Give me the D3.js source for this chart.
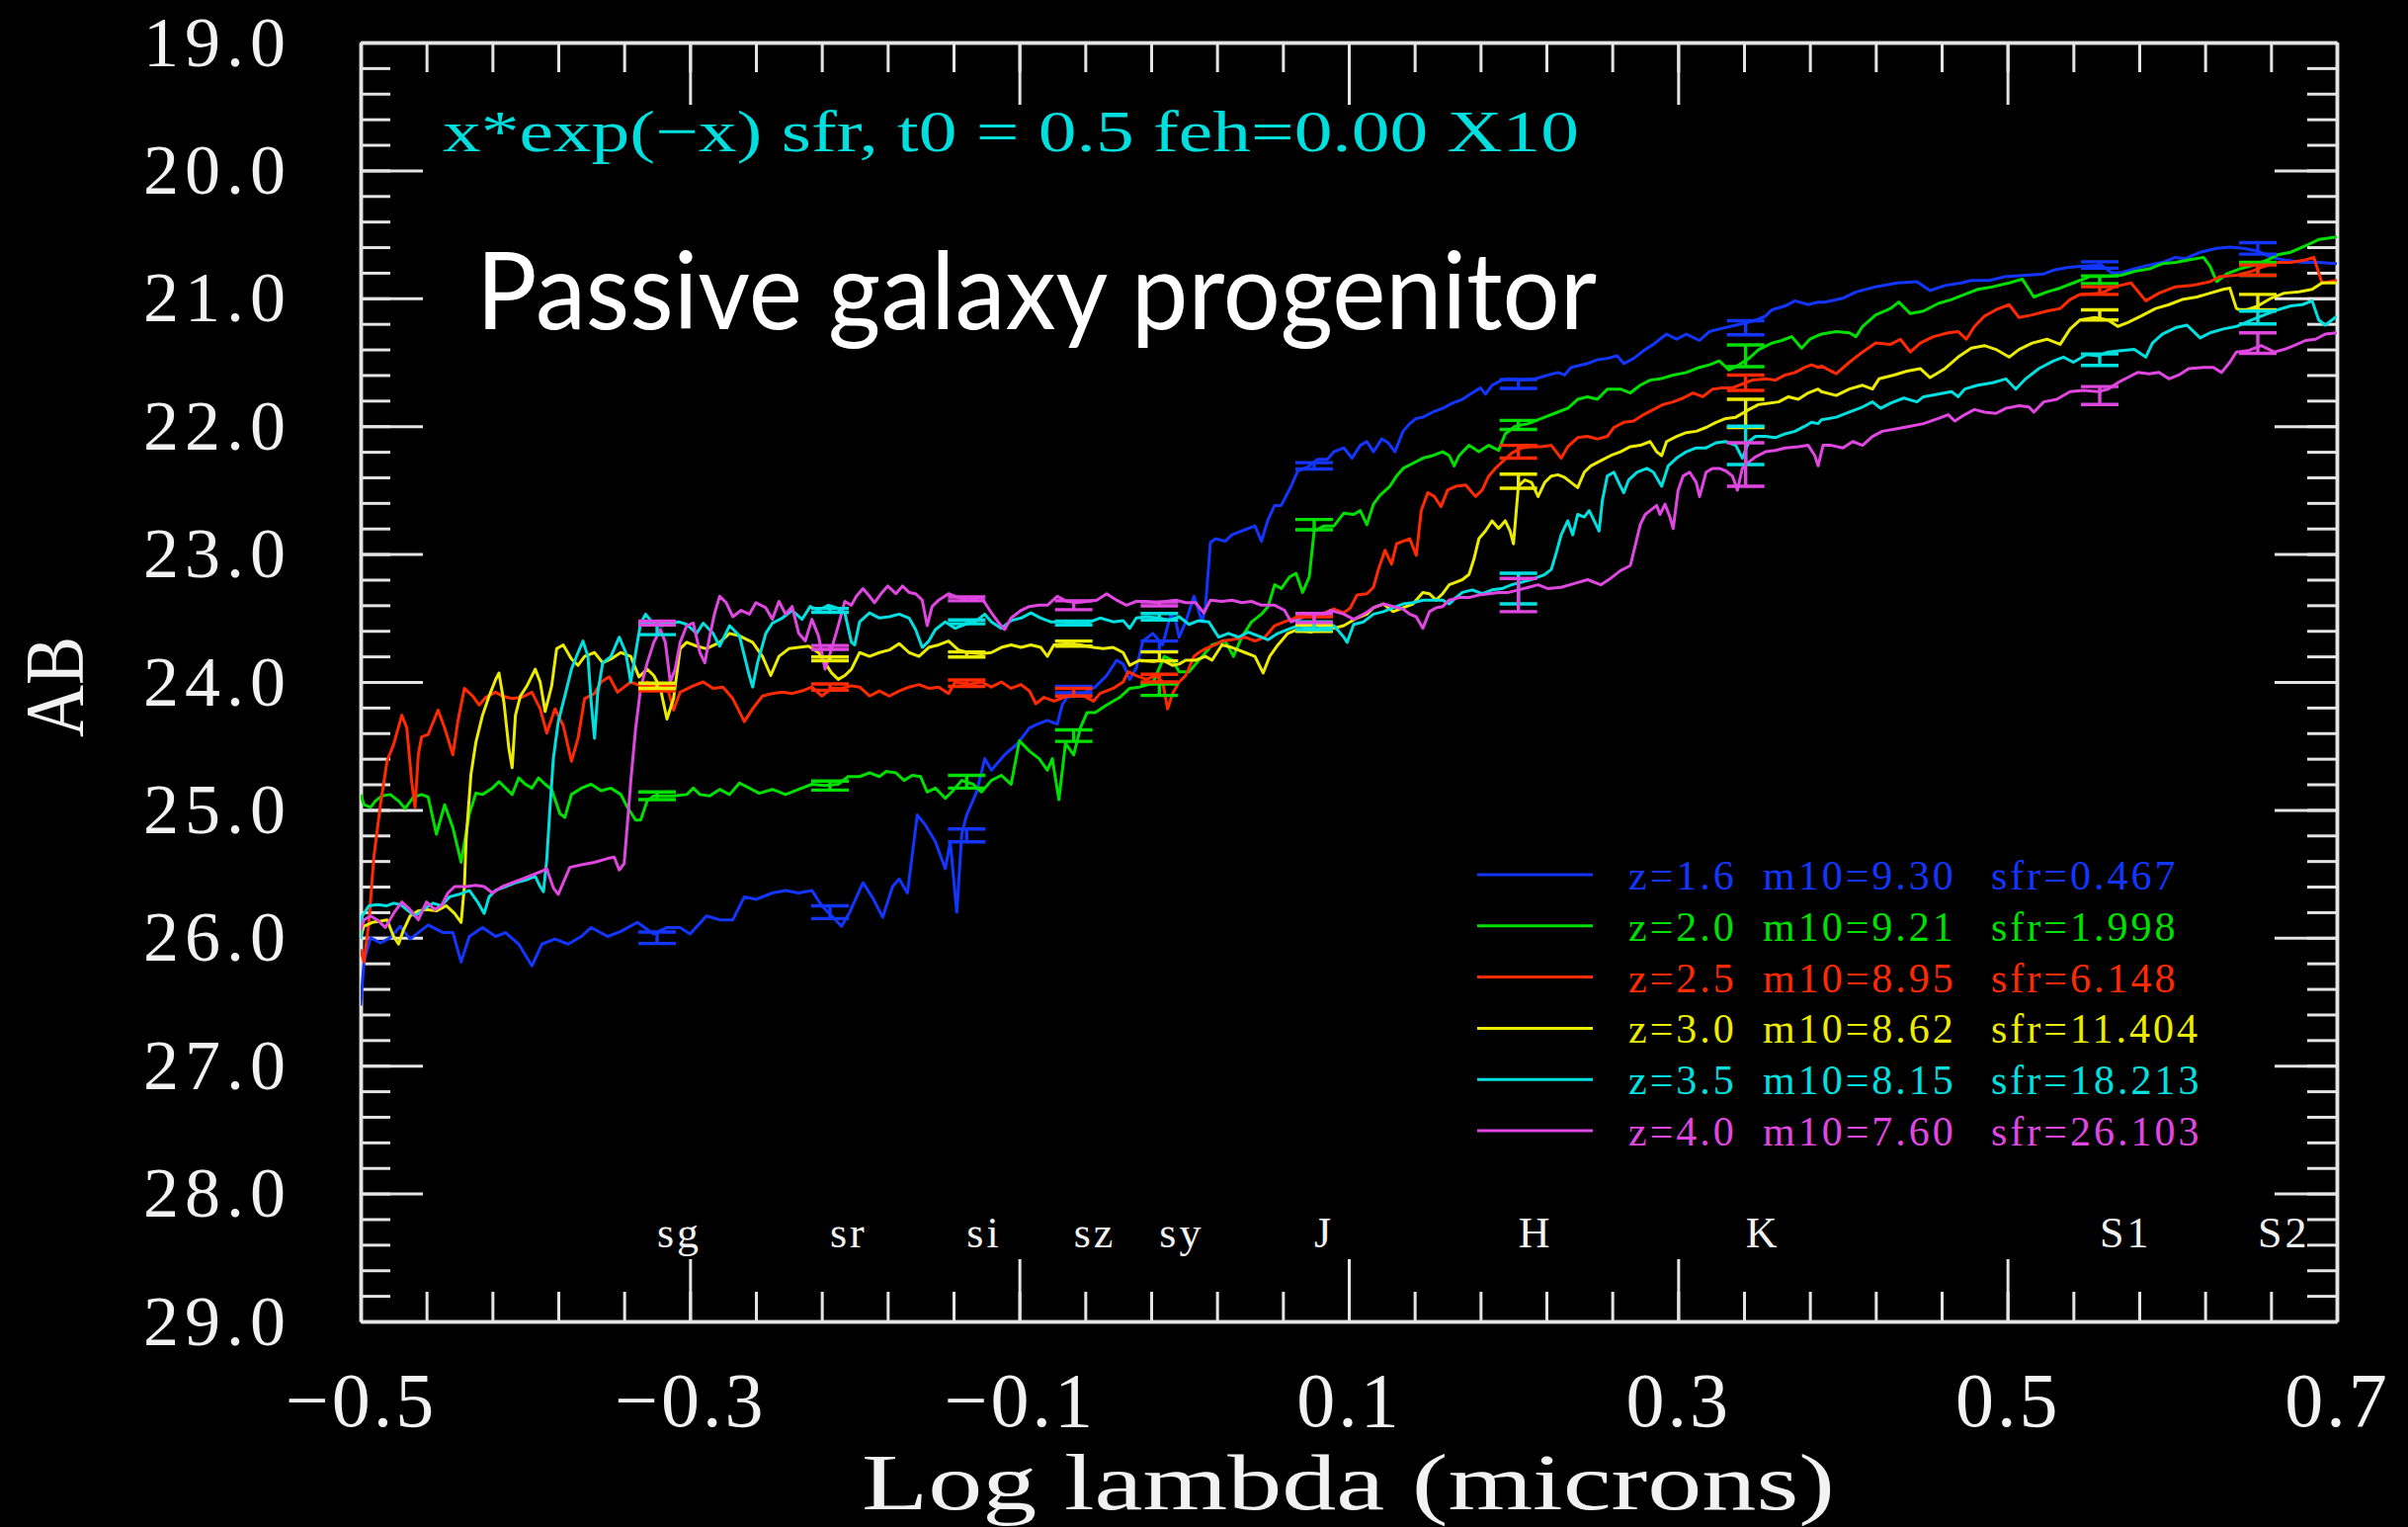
<!DOCTYPE html>
<html><head><meta charset="utf-8">
<script src="https://cdn.jsdelivr.net/npm/d3@7"></script>
<style>
html,body{margin:0;padding:0;background:#000;}
svg{display:block;}
</style></head><body>
<svg id="chart" width="2437" height="1545"></svg>
<script>
// ---------------- DATA ----------------
const titleText = "x*exp(\u2212x) sfr, t0 = 0.5 feh=0.00 X10";
const bigTitle = "Passive galaxy progenitor";
const xAxisTitle = "Log lambda (microns)";
const yAxisTitle = "AB";

const xTickValues = [-0.5, -0.3, -0.1, 0.1, 0.3, 0.5, 0.7];
const yTickValues = [19, 20, 21, 22, 23, 24, 25, 26, 27, 28, 29];

const zLabels   = ["z=1.6", "z=2.0", "z=2.5", "z=3.0", "z=3.5", "z=4.0"];
const m10Labels = ["m10=9.30", "m10=9.21", "m10=8.95", "m10=8.62", "m10=8.15", "m10=7.60"];
const sfrLabels = ["sfr=0.467", "sfr=1.998", "sfr=6.148", "sfr=11.404", "sfr=18.213", "sfr=26.103"];
const seriesColors = ["#1236ff", "#00e000", "#ff2a00", "#ecec00", "#00e0e0", "#e046e0"];

const filterNames  = ["sg", "sr", "si", "sz", "sy", "J", "H", "K", "S1", "S2"];
const filterLogLam = [-0.320, -0.215, -0.132, -0.067, -0.015, 0.079, 0.203, 0.341, 0.556, 0.652];

// spectra: [log lambda, AB]
const blueSpec = [
[-0.500,26.53],[-0.498,26.19],[-0.494,26.00],[-0.488,26.04],[-0.482,26.00],[-0.476,25.91],[-0.470,26.01],[-0.459,25.90],[-0.450,25.96],[-0.444,25.96],[-0.439,26.19],[-0.434,25.99],[-0.426,25.92],[-0.418,25.99],[-0.412,25.96],[-0.404,26.05],[-0.396,26.22],[-0.390,26.05],[-0.382,26.01],[-0.374,26.05],[-0.366,25.99],[-0.360,25.92],[-0.350,25.99],[-0.342,25.95],[-0.332,25.88],[-0.322,25.97],[-0.314,25.92],[-0.306,25.92],[-0.300,25.97],[-0.290,25.83],[-0.282,25.86],[-0.274,25.86],[-0.267,25.68],[-0.260,25.70],[-0.250,25.65],[-0.242,25.63],[-0.234,25.65],[-0.226,25.63],[-0.220,25.75],[-0.214,25.83],[-0.208,25.91],
[-0.203,25.80],[-0.195,25.57],[-0.189,25.69],[-0.183,25.84],[-0.177,25.60],[-0.173,25.54],[-0.168,25.65],[-0.162,25.04],[-0.157,25.12],[-0.151,25.25],[-0.145,25.46],[-0.142,25.25],[-0.138,25.80],[-0.135,25.19],[-0.132,25.04],[-0.126,24.86],[-0.121,24.60],[-0.117,24.69],[-0.109,24.57],[-0.101,24.48],[-0.094,24.36],[-0.089,24.33],[-0.083,24.30],[-0.077,24.33],[-0.074,24.18],[-0.071,24.12],[-0.063,24.10],[-0.054,24.04],[-0.047,23.95],[-0.041,23.83],[-0.037,23.86],[-0.033,23.98],[-0.029,23.89],[-0.025,23.68],[-0.019,23.62],[-0.013,23.71],[-0.008,23.47],[-0.005,23.53],[-0.003,23.65],[0.001,23.53],[0.006,23.33],[0.011,23.53],[0.013,23.41],[0.016,22.91],[0.019,22.88],[0.025,22.90],[0.029,22.85],[0.037,22.81],[0.043,22.78],[0.047,22.90],[0.051,22.73],[0.055,22.62],[0.059,22.62],[0.065,22.47],[0.069,22.35],[0.075,22.32],[0.081,22.26],[0.087,22.26],[0.091,22.20],[0.097,22.17],
[0.102,22.25],[0.107,22.15],[0.111,22.12],[0.115,22.20],[0.120,22.10],[0.124,22.13],[0.128,22.20],[0.133,22.04],[0.137,21.98],[0.141,21.94],[0.145,21.93],[0.151,21.89],[0.157,21.86],[0.163,21.82],[0.169,21.79],[0.175,21.74],[0.180,21.70],[0.183,21.75],[0.187,21.68],[0.193,21.64],[0.197,21.63],[0.205,21.64],[0.213,21.63],[0.221,21.60],[0.227,21.58],[0.231,21.60],[0.235,21.54],[0.245,21.51],[0.251,21.48],[0.257,21.47],[0.263,21.45],[0.267,21.51],[0.273,21.47],[0.279,21.41],[0.285,21.36],[0.293,21.28],[0.299,21.32],[0.305,21.28],[0.313,21.33],[0.319,21.26],[0.325,21.24],[0.335,21.21],[0.345,21.18],[0.353,21.14],[0.357,21.09],[0.365,21.06],[0.371,21.02],[0.379,21.05],[0.385,21.03],
[0.389,21.03],[0.400,21.00],[0.408,20.95],[0.420,20.91],[0.433,20.88],[0.445,20.87],[0.453,20.94],[0.462,20.90],[0.472,20.88],[0.478,20.86],[0.489,20.86],[0.499,20.83],[0.511,20.82],[0.522,20.81],[0.528,20.78],[0.536,20.76],[0.544,20.75],[0.557,20.74],[0.563,20.80],[0.569,20.80],[0.577,20.77],[0.586,20.74],[0.594,20.72],[0.602,20.68],[0.608,20.69],[0.617,20.64],[0.627,20.61],[0.635,20.60],[0.643,20.61],[0.652,20.63],[0.660,20.68],[0.668,20.70],[0.679,20.72],[0.689,20.72],[0.700,20.73]
];
const greenSpec = [
[-0.500,24.88],[-0.498,24.96],[-0.494,24.98],[-0.491,24.93],[-0.487,24.89],[-0.482,24.88],[-0.477,24.93],[-0.473,24.99],[-0.468,24.90],[-0.463,24.88],[-0.459,24.90],[-0.454,25.19],[-0.449,24.96],[-0.444,25.14],[-0.439,25.41],[-0.434,25.03],[-0.430,24.87],[-0.426,24.88],[-0.420,24.83],[-0.416,24.78],[-0.412,24.83],[-0.408,24.88],[-0.404,24.75],[-0.400,24.80],[-0.396,24.83],[-0.392,24.75],[-0.388,24.80],[-0.384,24.84],[-0.379,25.03],[-0.376,25.06],[-0.372,24.88],[-0.366,24.83],[-0.360,24.80],[-0.354,24.85],[-0.348,24.83],[-0.342,24.88],[-0.338,24.98],[-0.333,25.08],[-0.330,25.08],[-0.326,24.93],[-0.322,24.89],[-0.310,24.89],[-0.302,24.88],[-0.298,24.83],[-0.294,24.88],[-0.288,24.89],[-0.282,24.84],[-0.276,24.88],[-0.270,24.79],[-0.264,24.83],[-0.258,24.87],[-0.250,24.84],[-0.242,24.88],[-0.234,24.84],[-0.226,24.80],[-0.218,24.81],[-0.210,24.80],[-0.204,24.74],
[-0.197,24.74],[-0.191,24.71],[-0.185,24.74],[-0.181,24.70],[-0.175,24.71],[-0.170,24.77],[-0.165,24.73],[-0.160,24.74],[-0.156,24.86],[-0.151,24.83],[-0.145,24.91],[-0.141,24.86],[-0.135,24.77],[-0.128,24.80],[-0.123,24.86],[-0.117,24.77],[-0.111,24.73],[-0.105,24.80],[-0.100,24.46],[-0.094,24.54],[-0.088,24.60],[-0.083,24.69],[-0.080,24.60],[-0.076,24.92],[-0.072,24.48],[-0.067,24.57],[-0.063,24.36],[-0.059,24.24],[-0.054,24.24],[-0.047,24.18],[-0.039,24.12],[-0.033,24.05],[-0.027,24.04],[-0.019,24.01],[-0.012,23.80],[-0.007,23.83],[-0.003,23.92],[0.003,23.92],[0.011,23.80],[0.017,23.71],[0.025,23.68],[0.030,23.80],[0.035,23.65],[0.041,23.53],[0.047,23.47],[0.051,23.41],[0.055,23.24],[0.059,23.27],[0.064,23.18],[0.068,23.15],[0.072,23.30],[0.076,23.18],[0.079,22.82],[0.085,22.78],[0.091,22.78],[0.097,22.68],
[0.103,22.69],[0.107,22.66],[0.111,22.77],[0.115,22.61],[0.119,22.54],[0.125,22.47],[0.129,22.39],[0.133,22.33],[0.139,22.29],[0.145,22.25],[0.151,22.23],[0.157,22.20],[0.161,22.23],[0.164,22.31],[0.167,22.23],[0.173,22.15],[0.179,22.20],[0.185,22.15],[0.191,22.19],[0.195,22.06],[0.201,22.00],[0.209,21.98],[0.217,21.94],[0.225,21.90],[0.233,21.86],[0.239,21.79],[0.245,21.77],[0.251,21.79],[0.257,21.71],[0.265,21.71],[0.271,21.74],[0.277,21.68],[0.283,21.64],[0.289,21.63],[0.297,21.60],[0.305,21.58],[0.313,21.54],[0.319,21.52],[0.325,21.49],[0.331,21.56],[0.337,21.52],[0.343,21.47],[0.349,21.40],[0.357,21.35],[0.363,21.33],[0.369,21.30],[0.375,21.39],[0.380,21.32],[0.385,21.29],
[0.387,21.28],[0.396,21.26],[0.404,21.27],[0.408,21.30],[0.412,21.22],[0.420,21.13],[0.429,21.08],[0.434,21.03],[0.441,21.12],[0.449,21.10],[0.458,21.04],[0.466,21.01],[0.474,20.97],[0.482,20.93],[0.491,20.91],[0.501,20.88],[0.509,20.85],[0.516,20.99],[0.524,20.95],[0.532,20.92],[0.540,20.88],[0.550,20.83],[0.561,20.83],[0.569,20.82],[0.577,20.79],[0.586,20.77],[0.594,20.73],[0.602,20.72],[0.610,20.70],[0.619,20.68],[0.623,20.75],[0.627,20.87],[0.633,20.81],[0.641,20.77],[0.650,20.74],[0.658,20.70],[0.664,20.66],[0.672,20.64],[0.681,20.59],[0.689,20.54],[0.700,20.52]
];
const redSpec = [
[-0.500,26.09],[-0.498,26.19],[-0.495,25.88],[-0.492,25.37],[-0.488,24.96],[-0.484,24.62],[-0.480,24.49],[-0.475,24.26],[-0.472,24.36],[-0.469,24.78],[-0.467,24.98],[-0.465,24.57],[-0.463,24.43],[-0.459,24.41],[-0.453,24.22],[-0.449,24.36],[-0.444,24.57],[-0.441,24.31],[-0.437,24.05],[-0.432,24.11],[-0.428,24.18],[-0.424,24.12],[-0.418,24.08],[-0.414,24.11],[-0.408,24.13],[-0.402,24.12],[-0.396,24.08],[-0.391,24.21],[-0.387,24.40],[-0.382,24.21],[-0.377,24.34],[-0.372,24.62],[-0.368,24.44],[-0.364,24.13],[-0.358,24.09],[-0.354,24.00],[-0.349,23.96],[-0.344,24.08],[-0.340,24.04],[-0.336,24.00],[-0.330,24.03],[-0.326,24.00],[-0.321,24.04],[-0.314,24.03],[-0.310,24.22],[-0.306,24.08],[-0.298,24.03],[-0.292,24.00],[-0.286,24.05],[-0.280,24.04],[-0.274,24.13],[-0.267,24.31],[-0.262,24.21],[-0.256,24.11],[-0.250,24.09],[-0.244,24.08],[-0.238,24.09],[-0.232,24.07],[-0.226,24.04],[-0.220,24.11],[-0.214,24.05],[-0.208,24.05],[-0.202,24.03],
[-0.197,24.04],[-0.191,24.11],[-0.185,24.07],[-0.179,24.11],[-0.173,24.07],[-0.167,24.04],[-0.161,24.02],[-0.155,24.05],[-0.149,24.04],[-0.143,24.09],[-0.139,24.00],[-0.131,24.02],[-0.123,24.00],[-0.117,24.04],[-0.111,24.00],[-0.105,24.05],[-0.099,24.02],[-0.094,24.07],[-0.090,24.17],[-0.085,24.12],[-0.079,24.15],[-0.073,24.12],[-0.067,24.09],[-0.061,24.11],[-0.055,24.15],[-0.051,24.09],[-0.043,24.05],[-0.037,24.00],[-0.034,23.92],[-0.029,23.95],[-0.023,23.98],[-0.017,23.95],[-0.013,24.00],[-0.010,24.21],[-0.007,24.09],[-0.003,24.00],[0.001,23.95],[0.006,23.80],[0.009,23.77],[0.013,23.74],[0.019,23.71],[0.023,23.68],[0.029,23.67],[0.037,23.65],[0.043,23.68],[0.049,23.65],[0.055,23.56],[0.061,23.53],[0.067,23.50],[0.073,23.46],[0.079,23.47],[0.085,23.46],[0.091,23.43],[0.097,23.46],
[0.101,23.42],[0.105,23.32],[0.111,23.31],[0.115,23.26],[0.118,23.12],[0.122,22.97],[0.126,23.08],[0.129,22.92],[0.133,22.90],[0.137,22.88],[0.141,23.01],[0.144,22.66],[0.148,22.52],[0.152,22.55],[0.156,22.63],[0.160,22.50],[0.165,22.47],[0.171,22.46],[0.177,22.55],[0.181,22.50],[0.185,22.39],[0.189,22.33],[0.194,22.27],[0.199,22.21],[0.205,22.17],[0.211,22.16],[0.217,22.16],[0.223,22.15],[0.229,22.25],[0.233,22.16],[0.239,22.09],[0.245,22.08],[0.251,22.10],[0.257,22.08],[0.261,22.01],[0.267,21.97],[0.273,21.96],[0.279,21.91],[0.285,21.87],[0.291,21.83],[0.297,21.81],[0.303,21.78],[0.309,21.74],[0.315,21.77],[0.321,21.71],[0.327,21.70],[0.333,21.70],[0.339,21.67],[0.345,21.64],[0.353,21.63],[0.359,21.64],[0.365,21.60],[0.371,21.58],[0.377,21.54],[0.381,21.52],[0.385,21.54],
[0.387,21.53],[0.396,21.59],[0.404,21.50],[0.412,21.42],[0.420,21.35],[0.429,21.36],[0.435,21.32],[0.441,21.42],[0.447,21.35],[0.455,21.30],[0.464,21.27],[0.470,21.26],[0.475,21.32],[0.480,21.22],[0.486,21.14],[0.493,21.09],[0.501,21.05],[0.507,21.15],[0.515,21.13],[0.524,21.10],[0.532,21.08],[0.538,21.01],[0.544,20.97],[0.557,20.96],[0.565,20.91],[0.575,20.88],[0.584,21.02],[0.592,20.96],[0.602,20.91],[0.612,20.90],[0.623,20.87],[0.629,20.83],[0.639,20.82],[0.648,20.79],[0.656,20.75],[0.664,20.72],[0.672,20.72],[0.681,20.70],[0.686,20.68],[0.691,20.88],[0.700,20.86]
];
const yellowSpec = [
[-0.500,25.99],[-0.498,25.91],[-0.493,25.88],[-0.488,25.87],[-0.484,25.86],[-0.480,25.99],[-0.477,26.05],[-0.474,25.94],[-0.470,25.83],[-0.465,25.79],[-0.460,25.78],[-0.454,25.79],[-0.448,25.75],[-0.443,25.81],[-0.439,25.88],[-0.437,25.60],[-0.436,25.24],[-0.433,24.72],[-0.430,24.47],[-0.426,24.26],[-0.422,24.11],[-0.418,23.98],[-0.416,23.93],[-0.413,24.16],[-0.410,24.52],[-0.408,24.67],[-0.406,24.26],[-0.403,24.11],[-0.399,24.03],[-0.394,23.90],[-0.391,24.00],[-0.388,24.23],[-0.384,24.03],[-0.381,23.74],[-0.377,23.71],[-0.372,23.82],[-0.368,23.87],[-0.364,23.80],[-0.358,23.77],[-0.353,23.85],[-0.348,23.82],[-0.342,23.77],[-0.336,23.80],[-0.331,23.96],[-0.326,23.90],[-0.322,23.95],[-0.318,24.05],[-0.314,24.29],[-0.310,24.13],[-0.306,23.74],[-0.302,23.69],[-0.296,23.72],[-0.290,23.74],[-0.282,23.69],[-0.276,23.62],[-0.270,23.64],[-0.262,23.69],[-0.256,23.80],[-0.251,23.95],[-0.246,23.80],[-0.240,23.74],[-0.234,23.73],[-0.228,23.72],[-0.222,23.77],[-0.218,23.85],[-0.214,23.93],[-0.210,23.98],[-0.206,23.95],[-0.202,23.90],
[-0.197,23.77],[-0.191,23.80],[-0.185,23.77],[-0.179,23.75],[-0.173,23.70],[-0.167,23.77],[-0.161,23.80],[-0.155,23.73],[-0.149,23.71],[-0.143,23.68],[-0.137,23.75],[-0.131,23.77],[-0.123,23.78],[-0.117,23.77],[-0.111,23.73],[-0.105,23.71],[-0.099,23.73],[-0.093,23.71],[-0.087,23.73],[-0.083,23.80],[-0.079,23.71],[-0.071,23.70],[-0.063,23.71],[-0.055,23.73],[-0.049,23.74],[-0.043,23.73],[-0.037,23.77],[-0.033,23.87],[-0.027,23.83],[-0.019,23.84],[-0.013,23.83],[-0.007,23.87],[-0.003,23.86],[0.001,23.83],[0.007,23.83],[0.013,23.80],[0.017,23.83],[0.023,23.71],[0.029,23.73],[0.037,23.77],[0.043,23.80],[0.048,23.93],[0.052,23.80],[0.057,23.71],[0.063,23.62],[0.069,23.59],[0.077,23.61],[0.085,23.56],[0.091,23.58],[0.097,23.56],
[0.105,23.50],[0.111,23.47],[0.115,23.42],[0.121,23.39],[0.127,23.45],[0.133,23.42],[0.139,23.39],[0.145,23.30],[0.149,23.31],[0.153,23.36],[0.157,23.31],[0.161,23.24],[0.165,23.22],[0.169,23.20],[0.173,23.16],[0.176,23.04],[0.179,22.88],[0.183,22.82],[0.187,22.74],[0.191,22.80],[0.195,22.74],[0.198,22.82],[0.200,22.92],[0.203,22.47],[0.207,22.42],[0.211,22.44],[0.215,22.55],[0.219,22.44],[0.223,22.39],[0.227,22.38],[0.231,22.40],[0.235,22.44],[0.239,22.48],[0.243,22.36],[0.247,22.31],[0.253,22.27],[0.259,22.23],[0.265,22.20],[0.271,22.16],[0.277,22.15],[0.283,22.12],[0.287,22.20],[0.290,22.23],[0.293,22.12],[0.299,22.08],[0.305,22.05],[0.311,22.04],[0.317,22.01],[0.323,21.97],[0.329,21.94],[0.335,21.93],[0.343,21.87],[0.349,21.83],[0.355,21.82],[0.361,21.81],[0.367,21.77],[0.373,21.79],[0.379,21.74],[0.385,21.71],
[0.387,21.73],[0.396,21.76],[0.404,21.71],[0.412,21.68],[0.418,21.71],[0.422,21.63],[0.431,21.60],[0.439,21.57],[0.447,21.55],[0.453,21.62],[0.462,21.55],[0.470,21.46],[0.478,21.39],[0.486,21.37],[0.493,21.40],[0.501,21.46],[0.507,21.40],[0.515,21.35],[0.524,21.32],[0.532,21.36],[0.538,21.24],[0.544,21.17],[0.553,21.15],[0.561,21.17],[0.567,21.22],[0.573,21.19],[0.581,21.14],[0.590,21.08],[0.598,21.05],[0.606,21.01],[0.615,20.99],[0.623,20.96],[0.631,20.93],[0.635,20.92],[0.639,21.08],[0.643,21.10],[0.652,21.06],[0.660,21.00],[0.668,20.96],[0.677,20.95],[0.685,20.93],[0.691,20.88],[0.700,20.88]
];
const cyanSpec = [
[-0.500,26.01],[-0.499,25.83],[-0.495,25.75],[-0.490,25.74],[-0.484,25.75],[-0.480,25.73],[-0.476,25.74],[-0.472,25.78],[-0.467,25.83],[-0.462,25.78],[-0.456,25.73],[-0.451,25.75],[-0.446,25.68],[-0.440,25.66],[-0.434,25.63],[-0.429,25.72],[-0.425,25.81],[-0.422,25.68],[-0.418,25.63],[-0.412,25.60],[-0.406,25.57],[-0.400,25.55],[-0.394,25.52],[-0.391,25.60],[-0.389,25.64],[-0.387,25.39],[-0.385,24.98],[-0.383,24.60],[-0.380,24.31],[-0.376,24.11],[-0.372,23.90],[-0.368,23.77],[-0.365,23.68],[-0.362,23.80],[-0.360,24.16],[-0.358,24.44],[-0.356,24.08],[-0.353,23.85],[-0.348,23.80],[-0.343,23.65],[-0.339,23.77],[-0.336,24.00],[-0.333,23.77],[-0.330,23.54],[-0.327,23.47],[-0.322,23.55],[-0.317,23.56],[-0.312,23.54],[-0.307,23.53],[-0.302,23.55],[-0.296,23.62],[-0.292,23.54],[-0.286,23.62],[-0.282,23.72],[-0.276,23.56],[-0.270,23.64],[-0.264,23.95],[-0.262,24.04],[-0.259,23.85],[-0.254,23.62],[-0.250,23.54],[-0.244,23.50],[-0.238,23.44],[-0.232,23.51],[-0.227,23.41],[-0.222,23.44],[-0.216,23.40],[-0.211,23.42],[-0.206,23.46],[-0.202,23.69],
[-0.200,23.71],[-0.197,23.53],[-0.191,23.46],[-0.185,23.50],[-0.179,23.49],[-0.173,23.47],[-0.167,23.50],[-0.163,23.59],[-0.159,23.73],[-0.155,23.68],[-0.151,23.59],[-0.145,23.53],[-0.139,23.58],[-0.133,23.55],[-0.127,23.53],[-0.121,23.47],[-0.117,23.53],[-0.111,23.58],[-0.105,23.52],[-0.099,23.50],[-0.093,23.46],[-0.087,23.50],[-0.081,23.53],[-0.073,23.53],[-0.065,23.55],[-0.057,23.53],[-0.051,23.50],[-0.043,23.53],[-0.037,23.52],[-0.033,23.58],[-0.029,23.50],[-0.023,23.49],[-0.015,23.50],[-0.009,23.52],[-0.003,23.49],[0.003,23.55],[0.009,23.52],[0.015,23.53],[0.021,23.65],[0.027,23.62],[0.033,23.65],[0.039,23.61],[0.045,23.64],[0.051,23.67],[0.057,23.62],[0.063,23.59],[0.069,23.56],[0.077,23.58],[0.085,23.58],[0.091,23.56],[0.097,23.65],
[0.099,23.69],[0.103,23.55],[0.109,23.53],[0.115,23.47],[0.121,23.45],[0.127,23.42],[0.133,23.39],[0.139,23.38],[0.145,23.36],[0.151,23.36],[0.157,23.36],[0.161,23.39],[0.165,23.34],[0.169,23.30],[0.175,23.28],[0.181,23.31],[0.187,23.28],[0.193,23.27],[0.199,23.24],[0.205,23.22],[0.213,23.19],[0.219,23.16],[0.223,23.12],[0.226,22.99],[0.229,22.85],[0.233,22.74],[0.236,22.85],[0.239,22.69],[0.243,22.71],[0.246,22.66],[0.249,22.74],[0.252,22.82],[0.254,22.58],[0.257,22.39],[0.261,22.36],[0.265,22.47],[0.267,22.52],[0.270,22.42],[0.275,22.36],[0.281,22.33],[0.285,22.36],[0.290,22.47],[0.294,22.31],[0.299,22.25],[0.305,22.20],[0.311,22.17],[0.317,22.17],[0.323,22.13],[0.329,22.12],[0.335,22.15],[0.339,22.25],[0.343,22.12],[0.347,22.08],[0.353,22.08],[0.359,22.09],[0.365,22.06],[0.371,22.04],[0.377,22.00],[0.381,21.97],[0.385,21.98],
[0.387,21.95],[0.396,21.93],[0.404,21.89],[0.412,21.85],[0.418,21.81],[0.423,21.86],[0.429,21.82],[0.437,21.78],[0.445,21.81],[0.449,21.77],[0.458,21.75],[0.466,21.73],[0.470,21.77],[0.474,21.71],[0.482,21.68],[0.491,21.66],[0.499,21.63],[0.505,21.71],[0.511,21.63],[0.519,21.55],[0.528,21.49],[0.534,21.46],[0.540,21.50],[0.548,21.44],[0.555,21.45],[0.561,21.42],[0.569,21.41],[0.577,21.40],[0.584,21.46],[0.588,21.35],[0.594,21.28],[0.602,21.23],[0.609,21.21],[0.617,21.31],[0.623,21.27],[0.631,21.24],[0.639,21.22],[0.648,21.17],[0.656,21.13],[0.664,21.09],[0.672,21.06],[0.679,21.05],[0.685,21.02],[0.689,21.17],[0.693,21.21],[0.700,21.14]
];
const magentaSpec = [
[-0.500,25.94],[-0.498,25.86],[-0.494,25.83],[-0.490,25.86],[-0.485,25.92],[-0.480,25.81],[-0.475,25.72],[-0.470,25.78],[-0.465,25.86],[-0.460,25.72],[-0.455,25.78],[-0.451,25.75],[-0.447,25.65],[-0.443,25.60],[-0.436,25.60],[-0.430,25.59],[-0.425,25.60],[-0.420,25.65],[-0.414,25.60],[-0.408,25.57],[-0.402,25.54],[-0.396,25.51],[-0.390,25.48],[-0.387,25.46],[-0.383,25.61],[-0.380,25.66],[-0.377,25.57],[-0.373,25.45],[-0.366,25.43],[-0.358,25.41],[-0.350,25.38],[-0.346,25.37],[-0.343,25.47],[-0.340,25.42],[-0.338,25.11],[-0.336,24.78],[-0.333,24.36],[-0.330,24.05],[-0.326,23.85],[-0.322,23.69],[-0.318,23.59],[-0.315,23.69],[-0.312,24.00],[-0.309,23.90],[-0.306,23.69],[-0.302,23.56],[-0.298,23.54],[-0.294,23.77],[-0.291,23.85],[-0.288,23.64],[-0.285,23.46],[-0.282,23.33],[-0.278,23.38],[-0.274,23.49],[-0.269,23.44],[-0.264,23.47],[-0.260,23.38],[-0.254,23.42],[-0.250,23.51],[-0.246,23.37],[-0.242,23.47],[-0.238,23.41],[-0.234,23.62],[-0.230,23.68],[-0.226,23.51],[-0.222,23.64],[-0.218,23.90],[-0.214,23.74],[-0.210,23.56],[-0.206,23.37],[-0.202,23.40],
[-0.199,23.33],[-0.195,23.27],[-0.191,23.33],[-0.188,23.38],[-0.184,23.31],[-0.180,23.25],[-0.175,23.31],[-0.171,23.25],[-0.167,23.30],[-0.163,23.31],[-0.159,23.36],[-0.156,23.56],[-0.153,23.41],[-0.149,23.36],[-0.143,23.31],[-0.137,23.34],[-0.131,23.36],[-0.123,23.34],[-0.118,23.44],[-0.113,23.53],[-0.109,23.59],[-0.105,23.50],[-0.099,23.44],[-0.094,23.41],[-0.088,23.40],[-0.083,23.40],[-0.077,23.33],[-0.071,23.37],[-0.065,23.38],[-0.059,23.37],[-0.053,23.36],[-0.047,23.31],[-0.041,23.36],[-0.035,23.40],[-0.029,23.37],[-0.023,23.37],[-0.017,23.38],[-0.011,23.37],[-0.005,23.36],[0.001,23.38],[0.007,23.38],[0.012,23.46],[0.016,23.36],[0.023,23.37],[0.029,23.36],[0.035,23.38],[0.041,23.37],[0.047,23.40],[0.055,23.40],[0.061,23.44],[0.065,23.53],[0.071,23.50],[0.077,23.47],[0.083,23.49],[0.089,23.44],[0.097,23.47],
[0.103,23.51],[0.109,23.47],[0.115,23.42],[0.121,23.39],[0.127,23.41],[0.133,23.43],[0.137,23.47],[0.141,23.49],[0.145,23.58],[0.149,23.45],[0.153,23.42],[0.157,23.41],[0.161,23.36],[0.167,23.34],[0.173,23.34],[0.179,23.32],[0.185,23.31],[0.191,23.30],[0.197,23.30],[0.203,23.28],[0.209,23.26],[0.215,23.24],[0.221,23.27],[0.229,23.26],[0.237,23.23],[0.245,23.20],[0.253,23.24],[0.259,23.19],[0.265,23.13],[0.271,23.09],[0.274,22.93],[0.277,22.77],[0.280,22.69],[0.283,22.66],[0.287,22.62],[0.289,22.69],[0.292,22.61],[0.295,22.71],[0.297,22.80],[0.300,22.50],[0.303,22.39],[0.307,22.36],[0.311,22.44],[0.313,22.55],[0.317,22.36],[0.321,22.33],[0.325,22.33],[0.329,22.35],[0.333,22.39],[0.336,22.50],[0.339,22.33],[0.343,22.28],[0.347,22.24],[0.353,22.20],[0.359,22.19],[0.365,22.17],[0.373,22.16],[0.379,22.15],[0.383,22.23],[0.385,22.31],
[0.388,22.15],[0.393,22.15],[0.400,22.17],[0.406,22.12],[0.412,22.15],[0.418,22.08],[0.424,22.04],[0.433,22.02],[0.441,22.00],[0.449,21.98],[0.458,21.94],[0.464,21.91],[0.468,21.96],[0.474,21.91],[0.480,21.87],[0.486,21.89],[0.493,21.90],[0.499,21.86],[0.507,21.84],[0.513,21.85],[0.516,21.89],[0.522,21.81],[0.530,21.79],[0.538,21.73],[0.546,21.72],[0.555,21.73],[0.561,21.71],[0.567,21.66],[0.573,21.62],[0.579,21.58],[0.586,21.59],[0.592,21.58],[0.598,21.63],[0.604,21.60],[0.610,21.55],[0.619,21.54],[0.625,21.54],[0.630,21.58],[0.635,21.50],[0.639,21.42],[0.646,21.41],[0.654,21.37],[0.662,21.42],[0.668,21.40],[0.674,21.37],[0.681,21.33],[0.687,21.32],[0.693,21.28],[0.700,21.27]
];

// filter photometry: [AB, error] per filter
const blueErr    = [[26.00,0.045],[25.80,0.05],[25.20,0.05],[24.06,0.025],[23.72,0.04],[22.31,0.025],[21.67,0.035],[21.23,0.055],[20.74,0.025],[20.61,0.045]];
const greenErr   = [[24.89,0.03],[24.81,0.035],[24.78,0.05],[24.42,0.045],[24.06,0.045],[22.77,0.04],[21.99,0.035],[21.45,0.085],[20.855,0.03],[20.77,0.05]];
const redErr     = [[24.05,0.02],[24.04,0.025],[24.01,0.025],[24.08,0.03],[23.97,0.03],[23.52,0.03],[22.20,0.05],[21.66,0.06],[20.94,0.03],[20.78,0.04]];
const yellowErr  = [[24.03,0.02],[23.82,0.015],[23.785,0.02],[23.70,0.02],[23.80,0.035],[23.58,0.025],[22.43,0.055],[21.90,0.11],[21.13,0.04],[21.03,0.06]];
const cyanErr    = [[23.585,0.045],[23.44,0.015],[23.53,0.015],[23.54,0.015],[23.49,0.025],[23.56,0.03],[23.27,0.12],[22.15,0.15],[21.48,0.045],[21.15,0.05]];
const magentaErr = [[23.54,0.015],[23.73,0.015],[23.35,0.015],[23.40,0.035],[23.39,0.015],[23.50,0.035],[23.32,0.13],[22.30,0.17],[21.76,0.07],[21.35,0.08]];

const spectra = [blueSpec, greenSpec, redSpec, yellowSpec, cyanSpec, magentaSpec];
const photometry = [blueErr, greenErr, redErr, yellowErr, cyanErr, magentaErr];

// ---------------- CHART ----------------
const W = 2437, H = 1545;
const P = {left: 365, right: 2365, top: 43, bottom: 1337};
const x = d3.scaleLinear().domain([-0.5, 0.7]).range([P.left, P.right]);
const y = d3.scaleLinear().domain([19, 29]).range([P.top, P.bottom]);

const svg = d3.select("#chart");
svg.append("rect").attr("width", W).attr("height", H).attr("fill", "#000");

svg.append("defs").append("clipPath").attr("id", "plotclip")
  .append("rect").attr("x", P.left).attr("y", P.top)
  .attr("width", P.right - P.left).attr("height", P.bottom - P.top);

const axisColor = "#e4e4e4";
const serif = "'Liberation Serif', 'DejaVu Serif', serif";
const fmt = d3.format(".1f");
const minorX = d3.range(0, 31).map(i => -0.5 + i * 0.04);
const minorY = d3.range(0, 51).map(i => 19 + i * 0.2);

function styleAxis(g) {
  g.selectAll("path, line").attr("stroke", axisColor).attr("stroke-width", 3);
  g.select(".domain").attr("stroke-width", 3.5);
}
function styleLabels(size, spacing) {
  return g => {
    g.attr("font-family", serif).attr("font-size", size);
    g.selectAll("text").attr("fill", "#f2f2f2").attr("letter-spacing", spacing);
  };
}

// bottom
svg.append("g").attr("transform", `translate(0,${P.bottom})`)
  .call(d3.axisBottom(x).tickValues(minorX).tickSize(-30).tickSizeOuter(0).tickFormat(""))
  .call(styleAxis);
svg.append("g").attr("transform", `translate(0,${P.bottom})`)
  .call(d3.axisBottom(x).tickValues(xTickValues).tickSize(-63).tickSizeOuter(0).tickPadding(51).tickFormat(fmt))
  .call(styleAxis).call(styleLabels(78, 3));
// top
svg.append("g").attr("transform", `translate(0,${P.top})`)
  .call(d3.axisTop(x).tickValues(minorX).tickSize(-30).tickSizeOuter(0).tickFormat(""))
  .call(styleAxis);
svg.append("g").attr("transform", `translate(0,${P.top})`)
  .call(d3.axisTop(x).tickValues(xTickValues).tickSize(-63).tickSizeOuter(0).tickFormat(""))
  .call(styleAxis);
// left
svg.append("g").attr("transform", `translate(${P.left},0)`)
  .call(d3.axisLeft(y).tickValues(minorY).tickSize(-30).tickSizeOuter(0).tickFormat(""))
  .call(styleAxis);
svg.append("g").attr("transform", `translate(${P.left},0)`)
  .call(d3.axisLeft(y).tickValues(yTickValues).tickSize(-63).tickSizeOuter(0).tickPadding(70).tickFormat(fmt))
  .call(styleAxis).call(styleLabels(72, 6));
// right
svg.append("g").attr("transform", `translate(${P.right},0)`)
  .call(d3.axisRight(y).tickValues(minorY).tickSize(-30).tickSizeOuter(0).tickFormat(""))
  .call(styleAxis);
svg.append("g").attr("transform", `translate(${P.right},0)`)
  .call(d3.axisRight(y).tickValues(yTickValues).tickSize(-63).tickSizeOuter(0).tickFormat(""))
  .call(styleAxis);

// axis titles
svg.append("text").attr("x", 872).attr("y", 1527)
  .attr("font-family", serif).attr("font-size", 80).attr("fill", "#f2f2f2")
  .attr("textLength", 985).attr("lengthAdjust", "spacingAndGlyphs")
  .text(xAxisTitle);
svg.append("text").attr("transform", "translate(84,695) rotate(-90)")
  .attr("text-anchor", "middle")
  .attr("font-family", serif).attr("font-size", 84).attr("fill", "#f2f2f2")
  .attr("textLength", 102).attr("lengthAdjust", "spacingAndGlyphs")
  .text(yAxisTitle);

// titles
svg.append("text").attr("x", 448).attr("y", 153)
  .attr("font-family", serif).attr("font-size", 60).attr("fill", "#00dede")
  .attr("textLength", 1150).attr("lengthAdjust", "spacingAndGlyphs")
  .text(titleText);
svg.append("text").attr("x", 482).attr("y", 333)
  .attr("font-family", "Lato, 'Open Sans', sans-serif").attr("font-size", 108).attr("fill", "#ffffff")
  .attr("textLength", 1134).attr("lengthAdjust", "spacingAndGlyphs")
  .text(bigTitle);

// filter labels
svg.append("g").selectAll("text").data(filterNames).join("text")
  .attr("x", (d, i) => x(filterLogLam[i]))
  .attr("y", y(28.42))
  .attr("font-family", serif).attr("font-size", 44).attr("letter-spacing", 3)
  .attr("fill", "#f2f2f2")
  .text(d => d);

// spectra
const line = d3.line().x(d => x(d[0])).y(d => y(d[1]));
const plot = svg.append("g").attr("clip-path", "url(#plotclip)");
plot.selectAll("path.spec").data(spectra).join("path")
  .attr("class", "spec")
  .attr("d", line)
  .attr("fill", "none")
  .attr("stroke", (d, i) => seriesColors[i])
  .attr("stroke-width", 3)
  .attr("stroke-linejoin", "round");

// error bars
const capHalf = 19;
photometry.forEach((arr, si) => {
  const g = plot.append("g").attr("stroke", seriesColors[si]).attr("stroke-width", 3.4);
  arr.forEach((pt, fi) => {
    const cx = x(filterLogLam[fi]);
    const y1 = y(pt[0] - pt[1]), y2 = y(pt[0] + pt[1]);
    g.append("line").attr("x1", cx).attr("x2", cx).attr("y1", y1).attr("y2", y2);
    g.append("line").attr("x1", cx - capHalf).attr("x2", cx + capHalf).attr("y1", y1).attr("y2", y1);
    g.append("line").attr("x1", cx - capHalf).attr("x2", cx + capHalf).attr("y1", y2).attr("y2", y2);
  });
});

// legend
const legX0 = 1495, legX1 = 1612, legY0 = 885, legDy = 51.8;
const colX = [1648, 1784, 2015];
const leg = svg.append("g");
zLabels.forEach((lab, i) => {
  const yy = legY0 + i * legDy;
  leg.append("line").attr("x1", legX0).attr("x2", legX1).attr("y1", yy).attr("y2", yy)
    .attr("stroke", seriesColors[i]).attr("stroke-width", 3);
  [lab, m10Labels[i], sfrLabels[i]].forEach((t, k) => {
    leg.append("text").attr("x", colX[k]).attr("y", yy + 15)
      .attr("font-family", serif).attr("font-size", 42).attr("letter-spacing", 3)
      .attr("fill", seriesColors[i]).text(t);
  });
});
</script>
</body></html>
